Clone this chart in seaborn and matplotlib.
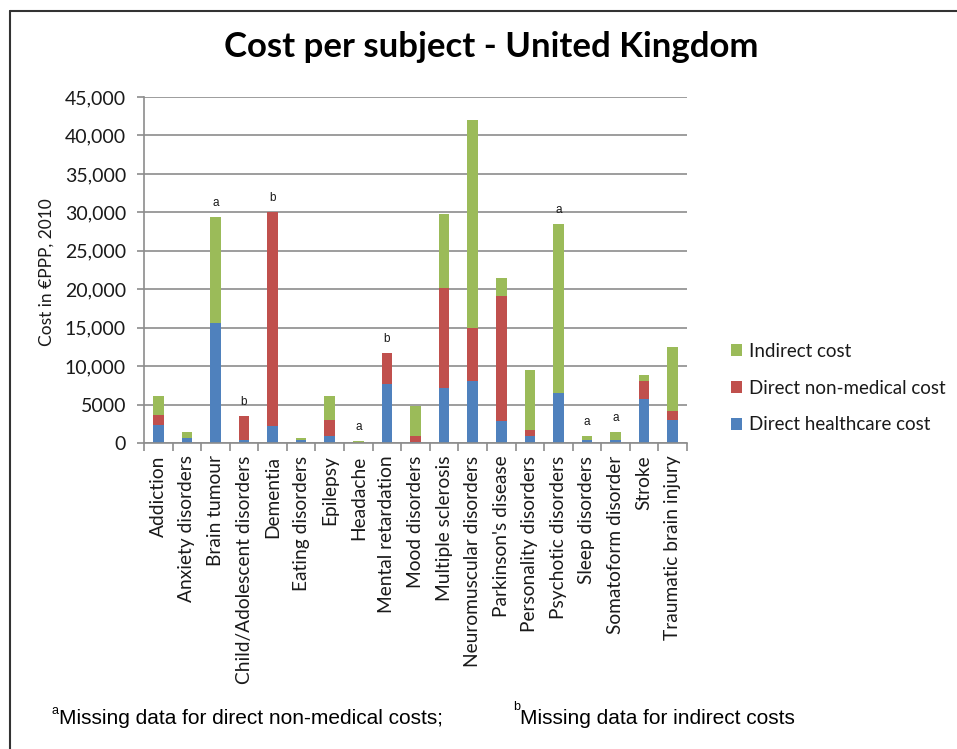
import matplotlib
matplotlib.use("Agg")
import matplotlib.pyplot as plt
import seaborn as sns
import pandas as pd
import numpy as np
from matplotlib.patches import Patch
from matplotlib.lines import Line2D

categories = ["Addiction", "Anxiety disorders", "Brain tumour", "Child/Adolescent disorders",
              "Dementia", "Eating disorders", "Epilepsy", "Headache", "Mental retardation",
              "Mood disorders", "Multiple sclerosis", "Neuromuscular disorders",
              "Parkinson's disease", "Personality disorders", "Psychotic disorders",
              "Sleep disorders", "Somatoform disorder", "Stroke", "Traumatic brain injury"]
direct_healthcare = [2400, 700, 15650, 400, 2250, 400, 850, 0, 7700,
                     150, 7200, 8000, 2850, 850, 6550, 400, 400, 5750, 2950]
direct_nonmedical = [1250, 0, 0, 3100, 27750, 0, 2200, 0, 4000,
                     700, 13000, 6900, 16300, 800, 0, 0, 0, 2250, 1200]
indirect = [2500, 700, 13700, 0, 0, 300, 3050, 250, 0,
            3900, 9600, 27100, 2250, 7900, 21900, 500, 1000, 900, 8350]
note_letters = {"Brain tumour": "a", "Child/Adolescent disorders": "b", "Dementia": "b",
                "Headache": "a", "Mental retardation": "b", "Psychotic disorders": "a",
                "Sleep disorders": "a", "Somatoform disorder": "a"}
yticks = [0, 5000, 10000, 15000, 20000, 25000, 30000, 35000, 40000, 45000]
ytick_labels = ["0", "5000", "10,000", "15,000", "20,000", "25,000", "30,000",
                "35,000", "40,000", "45,000"]
series_names = ["Indirect cost", "Direct non-medical cost", "Direct healthcare cost"]

BLUE, RED, GREEN = "#4F81BD", "#C0504D", "#9BBB59"
GRID = "#8C8C8C"
TXT = "#1A1A1A"

sns.set_style("white")
plt.rcParams['font.family'] = ['Lato', 'DejaVu Sans']

W, H = 957, 749
fig = plt.figure(figsize=(W / 100, H / 100), dpi=100)
ax = fig.add_axes([144 / W, 1 - 443 / H, (687 - 144) / W, (443 - 97) / H])

df = pd.DataFrame({"cat": categories,
                   "hc": direct_healthcare,
                   "nm": direct_nonmedical,
                   "ind": indirect})
df["lvl2"] = df["hc"] + df["nm"]
df["lvl3"] = df["lvl2"] + df["ind"]

bw = 0.37
for col, c in [("lvl3", GREEN), ("lvl2", RED), ("hc", BLUE)]:
    sns.barplot(data=df, x="cat", y=col, order=categories, color=c, saturation=1,
                width=bw, linewidth=0, ax=ax, errorbar=None)

ax.set_ylim(0, 45000)
ax.set_xlim(-0.5, len(categories) - 0.5)
ax.set_yticks(yticks)
ax.set_yticklabels(ytick_labels, fontsize=14, color=TXT)
ax.set_axisbelow(True)
ax.yaxis.grid(True, color=GRID, linewidth=1.2)
ax.xaxis.grid(False)
for s in ["top", "right"]:
    ax.spines[s].set_visible(False)
for s in ["left", "bottom"]:
    ax.spines[s].set_color(GRID)
    ax.spines[s].set_linewidth(1.2)
ax.tick_params(axis="y", direction="out", length=5, width=1.2, color=GRID, pad=8, left=True)
ax.set_xticks(range(len(categories)))
ax.set_xticklabels(categories, rotation=90, fontsize=13.8, color=TXT, ha="center", va="top")
ax.tick_params(axis="x", which="major", length=0, pad=9)
ax.set_xticks(np.arange(-0.5, len(categories), 1.0), minor=True)
ax.tick_params(axis="x", which="minor", direction="out", length=6, width=1.2, color=GRID, bottom=True)
ax.set_xlabel("")
ax.set_ylabel("")

for i, cat in enumerate(categories):
    if cat in note_letters:
        top = df.loc[i, "lvl3"]
        ax.annotate(note_letters[cat], (i, top), xytext=(0, 6), textcoords="offset points",
                    ha="center", va="bottom", fontsize=8.5, color=TXT,
                    family=["Liberation Sans", "DejaVu Sans"])

handles = [Patch(facecolor=c, edgecolor="none") for c in [GREEN, RED, BLUE]]
fig.legend(handles, series_names, loc="center left",
           bbox_to_anchor=(714 / W, 1 - 388 / H), frameon=False, fontsize=13.5,
           handlelength=0.6, handleheight=0.6, handletextpad=0.35, labelspacing=1.05,
           labelcolor=TXT)

fig.text(491 / W, 1 - 47 / H, "Cost per subject - United Kingdom", ha="center", va="center",
         fontsize=25, fontweight="bold", color="black")
fig.text(47 / W, 1 - 272 / H, "Cost in €PPP, 2010", rotation=90, ha="center", va="center",
         fontsize=12.5, color=TXT)

foot_fam = ["Liberation Sans Narrow", "Liberation Sans", "DejaVu Sans"]
fig.text(52 / W, 1 - 711 / H, "a", fontsize=9, family=foot_fam, color="black", ha="left", va="center")
fig.text(59 / W, 1 - 719 / H, "Missing data for direct non-medical costs;", fontsize=15,
         family=foot_fam, color="black", ha="left", va="center")
fig.text(513 / W, 1 - 707 / H, "b", fontsize=9, family=foot_fam, color="black", ha="left", va="center")
fig.text(520 / W, 1 - 719 / H, "Missing data for indirect costs", fontsize=15,
         family=foot_fam, color="black", ha="left", va="center")

fig.add_artist(Line2D([10 / W, 1], [1 - 11 / H, 1 - 11 / H], color="#333333", linewidth=1.5,
                      transform=fig.transFigure))
fig.add_artist(Line2D([10 / W, 10 / W], [0, 1 - 11 / H], color="#333333", linewidth=1.5,
                      transform=fig.transFigure))

fig.savefig("out.png", dpi=100, facecolor="white")
